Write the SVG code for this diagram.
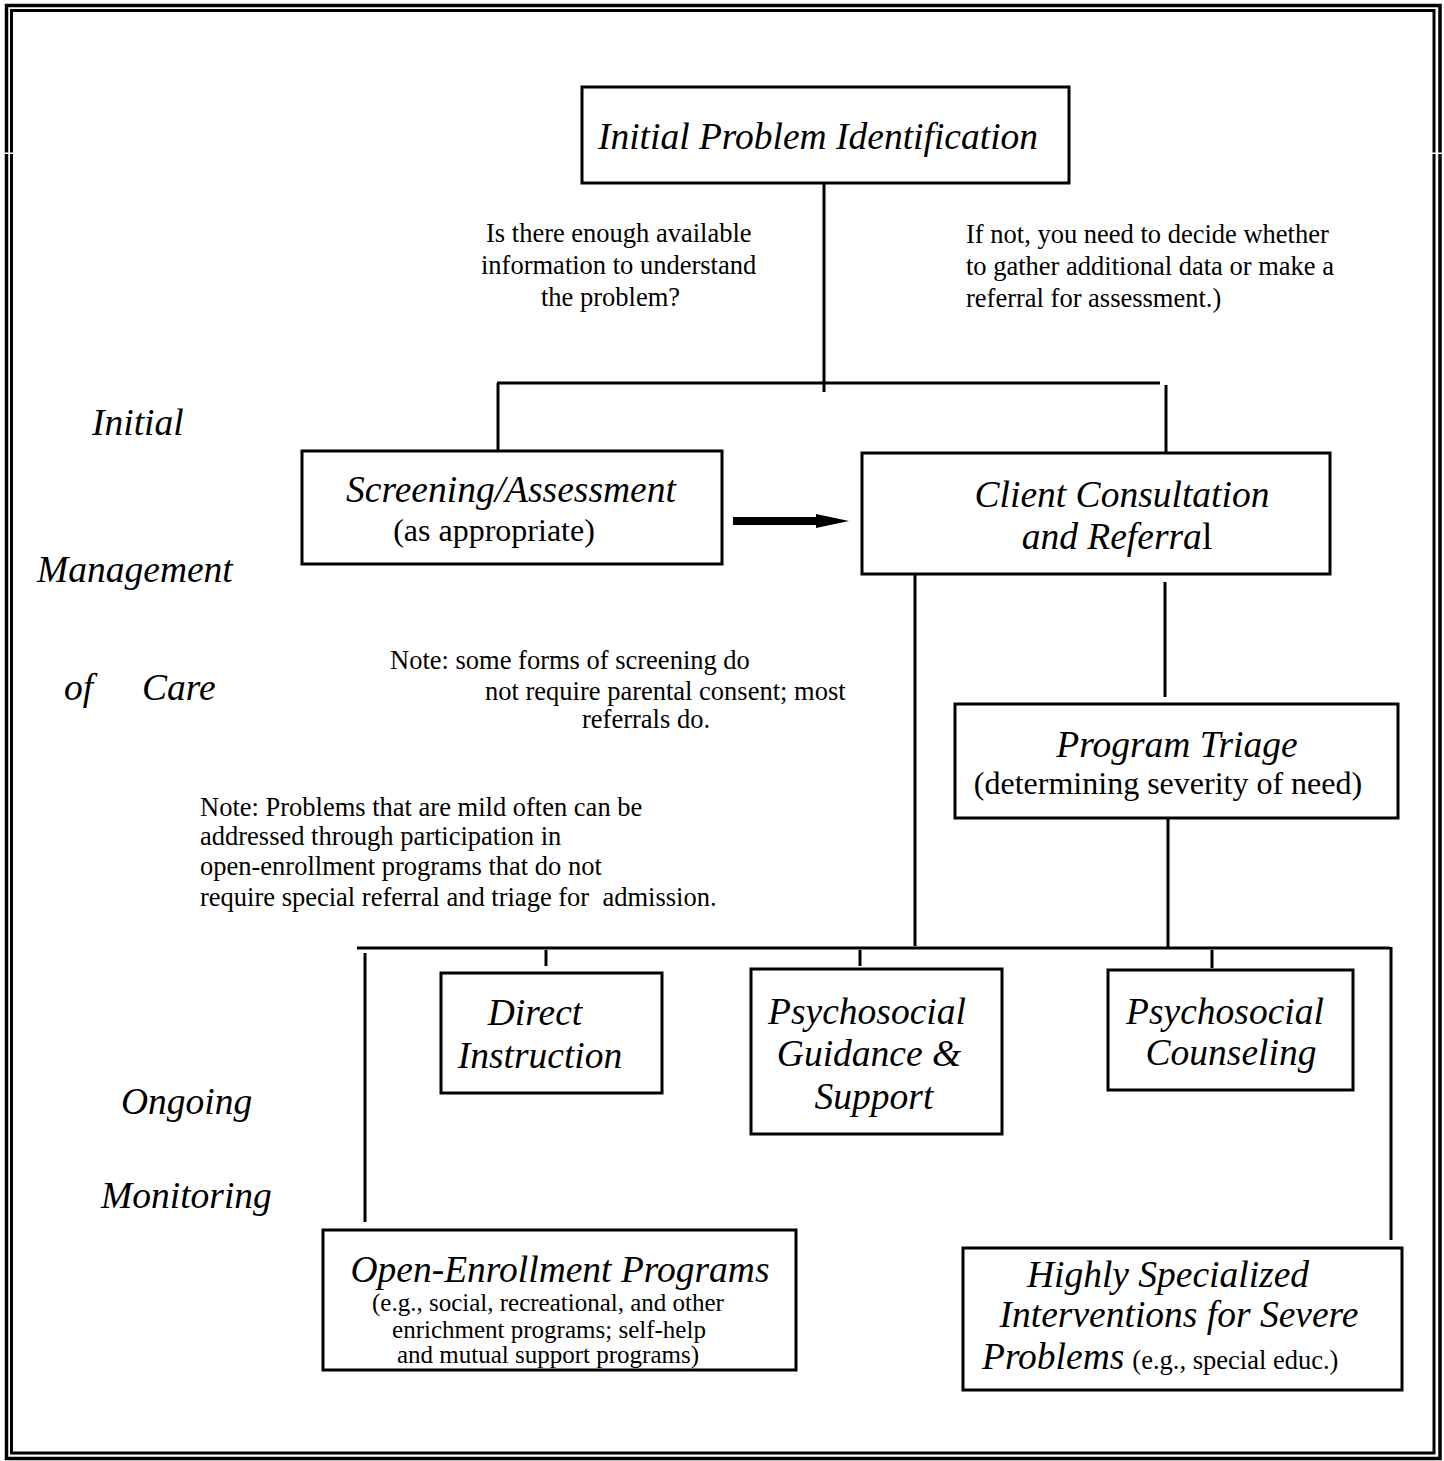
<svg xmlns="http://www.w3.org/2000/svg" width="1444" height="1461" viewBox="0 0 1444 1461">
<style>
  .box{fill:#fff;stroke:#000;stroke-width:3}
  .ln{stroke:#000;stroke-width:3;fill:none}
  .it{font-family:"Liberation Serif","Times New Roman",serif;font-style:italic;font-size:37.5px;fill:#000}
  .rm{font-family:"Liberation Serif","Times New Roman",serif;font-size:26.5px;fill:#000}
  .sub{font-family:"Liberation Serif","Times New Roman",serif;font-size:32px;fill:#000}
  .sm{font-family:"Liberation Serif","Times New Roman",serif;font-size:25px;fill:#000}
  .side{font-family:"Liberation Serif","Times New Roman",serif;font-style:italic;font-size:37.5px;fill:#000}
</style>
<rect width="1444" height="1461" fill="#fff"/>
<g id="frame">
  <rect x="6.5" y="5.5" width="1433.5" height="1453" fill="none" stroke="#000" stroke-width="3.5"/>
  <rect x="11.5" y="10.5" width="1422.5" height="1442.5" fill="none" stroke="#000" stroke-width="3"/>
  <rect x="3" y="152.5" width="12" height="1.5" fill="#fff"/>
  <rect x="1430" y="152.5" width="12" height="1.5" fill="#fff"/>
</g>
<g id="connectors">
  <polyline class="ln" points="824,183 824,392"/>
  <polyline class="ln" points="497,383 1160,383"/>
  <polyline class="ln" points="498,383 498,452"/>
  <polyline class="ln" points="1166,385 1166,453"/>
  <rect x="733" y="517" width="85" height="8" fill="#000"/>
  <polygon points="816,514 849,521 816,528" fill="#000"/>
  <polyline class="ln" points="915,574 915,946"/>
  <polyline class="ln" points="1165,582 1165,697"/>
  <polyline class="ln" points="1168,818 1168,947"/>
  <polyline class="ln" points="357,948 1390,948"/>
  <polyline class="ln" points="365,953 365,1222"/>
  <polyline class="ln" points="1391,947 1391,1240"/>
  <polyline class="ln" points="546,950 546,966"/>
  <polyline class="ln" points="860,950 860,966"/>
  <polyline class="ln" points="1212,950 1212,968"/>
</g>
<g id="n-initial">
  <rect class="box" x="582" y="87" width="487" height="96"/>
  <text class="it" x="818" y="149" text-anchor="middle">Initial Problem Identification</text>
</g>
<g id="q-text">
  <text class="rm" x="486" y="242">Is there enough available</text>
  <text class="rm" x="481" y="274">information to understand</text>
  <text class="rm" x="541" y="306">the problem?</text>
</g>
<g id="ifnot-text">
  <text class="rm" x="966" y="243">If not, you need to decide whether</text>
  <text class="rm" x="966" y="275">to gather additional data or make a</text>
  <text class="rm" x="966" y="307">referral for assessment.)</text>
</g>
<g id="side-labels">
  <text class="side" x="92" y="435">Initial</text>
  <text class="side" x="37" y="582">Management</text>
  <text class="side" x="64" y="700">of</text>
  <text class="side" x="142" y="700">Care</text>
  <text class="side" x="121" y="1114">Ongoing</text>
  <text class="side" x="101" y="1208">Monitoring</text>
</g>
<g id="n-screening">
  <rect class="box" x="302" y="451" width="420" height="113"/>
  <text class="it" x="511" y="502" text-anchor="middle">Screening/Assessment</text>
  <text class="sub" x="494" y="541" text-anchor="middle">(as appropriate)</text>
</g>
<g id="n-client">
  <rect class="box" x="862" y="453" width="468" height="121"/>
  <text class="it" x="1122" y="507" text-anchor="middle">Client Consultation</text>
  <text class="it" x="1117" y="549" text-anchor="middle">and Referra<tspan style="font-style:normal">l</tspan></text>
</g>
<g id="note1">
  <text class="rm" x="390" y="669">Note: some forms of screening do</text>
  <text class="rm" x="485" y="700">not require parental consent; most</text>
  <text class="rm" x="582" y="728">referrals do.</text>
</g>
<g id="n-triage">
  <rect class="box" x="955" y="704" width="443" height="114"/>
  <text class="it" x="1177" y="757" text-anchor="middle">Program Triage</text>
  <text class="sub" x="1168" y="794" text-anchor="middle">(determining severity of need)</text>
</g>
<g id="note2">
  <text class="rm" x="200" y="816">Note: Problems that are mild often can be</text>
  <text class="rm" x="200" y="845">addressed through participation in</text>
  <text class="rm" x="200" y="875">open-enrollment programs that do not</text>
  <text class="rm" x="200" y="906" xml:space="preserve">require special referral and triage for  admission.</text>
</g>
<g id="n-direct">
  <rect class="box" x="441" y="973" width="221" height="120"/>
  <text class="it" x="535" y="1025" text-anchor="middle">Direct</text>
  <text class="it" x="540" y="1068" text-anchor="middle">Instruction</text>
</g>
<g id="n-guidance">
  <rect class="box" x="751" y="969" width="251" height="165"/>
  <text class="it" x="867" y="1024" text-anchor="middle">Psychosocial</text>
  <text class="it" x="869" y="1066" text-anchor="middle">Guidance &amp;</text>
  <text class="it" x="874" y="1109" text-anchor="middle">Support</text>
</g>
<g id="n-counseling">
  <rect class="box" x="1108" y="970" width="245" height="120"/>
  <text class="it" x="1225" y="1024" text-anchor="middle">Psychosocial</text>
  <text class="it" x="1231" y="1065" text-anchor="middle">Counseling</text>
</g>
<g id="n-open">
  <rect class="box" x="323" y="1230" width="473" height="140"/>
  <text class="it" x="560" y="1282" text-anchor="middle">Open-Enrollment Programs</text>
  <text class="sm" x="548" y="1311" text-anchor="middle">(e.g., social, recreational, and other</text>
  <text class="sm" x="549" y="1338" text-anchor="middle">enrichment programs; self-help</text>
  <text class="sm" x="548" y="1363" text-anchor="middle">and mutual support programs)</text>
</g>
<g id="n-special">
  <rect class="box" x="963" y="1248" width="439" height="142"/>
  <text class="it" x="1168" y="1287" text-anchor="middle">Highly Specialized</text>
  <text class="it" x="1179" y="1327" text-anchor="middle">Interventions for Severe</text>
  <text x="982" y="1369"><tspan class="it">Problems</tspan><tspan class="rm" dx="8">(e.g., special educ.)</tspan></text>
</g>
</svg>
